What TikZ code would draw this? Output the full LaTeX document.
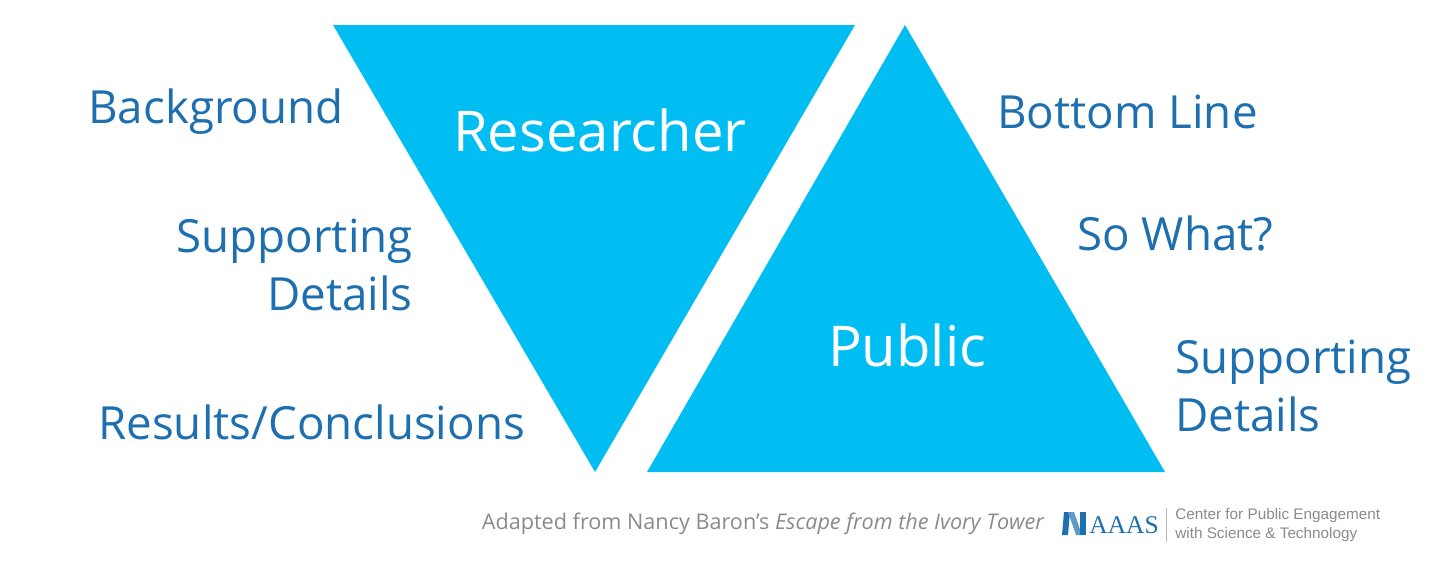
\documentclass[tikz,border=0pt]{standalone}
\usepackage{fontspec}
\setmainfont{Open Sans}
\newfontfamily\logofont{Liberation Serif}
\newfontfamily\centerfont{Liberation Sans}
\usetikzlibrary{positioning}
\definecolor{tri}{HTML}{00BEF2}
\definecolor{lab}{HTML}{1E6FAF}
\definecolor{foot}{HTML}{8A8A8A}
\tikzset{
  label/.style={text=lab,font=\fontsize{26}{33}\selectfont,inner sep=0pt},
  title/.style={text=white,font=\fontsize{32}{38}\selectfont,inner sep=0pt},
  small/.style={text=foot,font=\fontsize{12.3}{14}\selectfont,inner sep=0pt}
}
\begin{document}
\begin{tikzpicture}[x=0.02cm,y=-0.02cm]
    \useasboundingbox (0,0) rectangle (1440,586);

    \fill[tri] (333,25) -- (855,25) -- (595,472) -- cycle;
    \fill[tri] (905,25) -- (1165,472) -- (647,472) -- cycle;

    \node[title] (researcher) at (600,130) {Researcher};
    \node[title] (public) at (907,345) {Public};

    \node[label,anchor=west] (background) at (88,112) {Background};
    \node[label,anchor=east,align=right] (support1) at (413,265) {Supporting\\Details};
    \node[label,anchor=west] (results) at (98,422) {Results/Conclusions};

    \node[label,anchor=west] (bottom) at (997,112) {Bottom Line};
    \node[label,anchor=west] (sowhat) at (1077,233) {So What?};
    \node[label,anchor=west,align=left] (support2) at (1175,386) {Supporting\\Details};

    \node[small,anchor=east] (adapted) at (1045,524) {Adapted from Nancy Baron’s \textit{Escape from the Ivory Tower}};
    % logo
    \fill[lab] (1062,535) -- (1064,512) -- (1070,512) -- (1068,535) -- cycle;
    \fill[lab!70] (1068,512) -- (1076,535) -- (1082,535) -- (1074,512) -- cycle;
    \fill[lab] (1080,535) -- (1080,512) -- (1086,512) -- (1086,535) -- cycle;
    \node[anchor=west,text=lab,font=\fontsize{14.5}{17}\selectfont\logofont,inner sep=0pt] (aaas) at (1089,525) {AAAS};
    \draw[foot!60] (1166,508) -- (1166,542);
    \node[small,anchor=west,align=left,font=\fontsize{8.7}{10.5}\selectfont\centerfont] (center) at (1175,525) {Center for Public Engagement\\with Science \& Technology};
\end{tikzpicture}
\end{document}
